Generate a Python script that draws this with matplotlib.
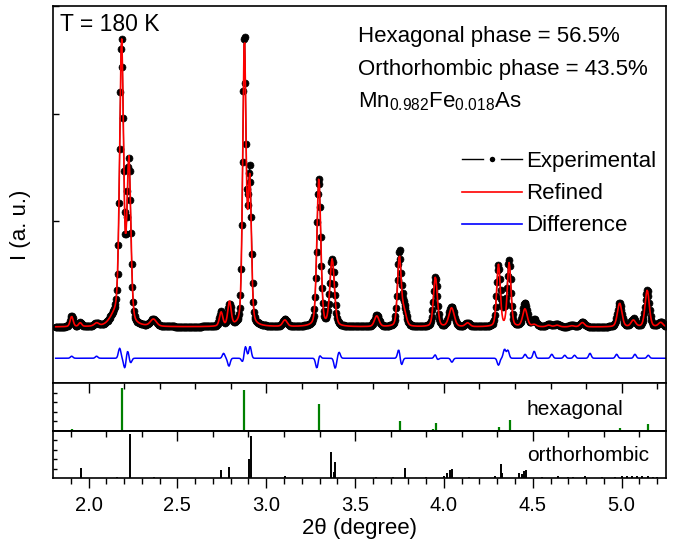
import numpy as np
import matplotlib.pyplot as plt
from matplotlib.lines import Line2D

plt.rcParams['font.family'] = ['Liberation Sans', 'DejaVu Sans']
plt.rcParams['mathtext.fontset'] = 'custom'
plt.rcParams['mathtext.rm'] = 'Liberation Sans'
plt.rcParams['mathtext.it'] = 'Liberation Sans:italic'
plt.rcParams['axes.linewidth'] = 1.2

peak_pos = [1.905, 1.953, 2.045, 2.150, 2.186, 2.227, 2.365, 2.746, 2.793, 2.877,
            2.907, 3.105, 3.296, 3.371, 3.622, 3.749, 3.775, 3.952, 4.043, 4.133,
            4.307, 4.337, 4.367, 4.456, 4.508, 4.590, 4.637, 4.720, 4.779, 4.989,
            5.066, 5.144, 5.220]
obs_int = [100, 37, 28, 90, 2600, 1490, 65, 140, 200, 2690,
           1400, 65, 1370, 620, 110, 690, 180, 465, 185, 37,
           555, 130, 600, 220, 65, 28, 28, 18, 46, 220,
           74, 340, 46]
calc_int = [95, 35, 28, 90, 2600, 1510, 65, 130, 225, 2640,
            1320, 60, 1370, 620, 100, 640, 140, 460, 175, 35,
            575, 0, 590, 165, 20, 15, 15, 10, 40, 220,
            60, 340, 40]
peak_fwhm = [0.02, 0.02, 0.03, 0.07, 0.026, 0.026, 0.04, 0.022, 0.022, 0.022,
             0.022, 0.03, 0.026, 0.03, 0.03, 0.024, 0.03, 0.026, 0.035, 0.03,
             0.024, 0.03, 0.024, 0.03, 0.03, 0.03, 0.03, 0.03, 0.03, 0.03,
             0.03, 0.028, 0.03]
background = 20

# Difference curve features (position, signed amplitude)
diff_pos = [1.905, 2.045, 2.175, 2.204, 2.220, 2.236, 2.760, 2.790, 2.868, 2.883,
            2.909, 3.285, 3.300, 3.388, 3.410, 3.746, 3.761, 3.952, 3.962, 4.045,
            4.307, 4.341, 4.360, 4.457, 4.508, 4.607, 4.680, 4.735, 4.822, 4.972,
            5.075, 5.150]
diff_amp = [19, 19, 93, -93, 74, -46, 46, -74, -37, 111,
            111, -93, 28, -93, 56, 83, -65, 37, -19, -37,
            -65, 83, 74, 37, 65, 37, 28, 28, 46, 37,
            37, 28]
diff_offset = -270

# Bragg reflections
hex_pos = [1.905, 2.156, 2.188, 2.875, 3.298, 3.751, 3.802, 3.937, 3.956, 4.309,
           4.371, 4.622, 4.710, 4.991, 5.038, 5.147]
hex_int = [4, 2, 90, 85, 57, 20, 2, 5, 17, 8, 22, 2, 2, 7, 3, 14]
ortho_pos = [1.955, 2.161, 2.234, 2.367, 2.746, 2.793, 2.901, 2.914, 3.105, 3.366,
             3.379, 3.388, 3.615, 3.714, 3.783, 3.899, 3.998, 4.017, 4.032, 4.045,
             4.139, 4.289, 4.319, 4.326, 4.420, 4.439, 4.448, 4.461, 4.551, 4.644,
             4.700, 4.729, 4.794, 4.888, 4.963, 5.000, 5.029, 5.057, 5.085, 5.113,
             5.150, 5.178, 5.197]
ortho_int = [21, 2, 94, 2, 16, 23, 40, 90, 4, 55,
             13, 33, 2, 2, 21, 2, 5, 10, 16, 19,
             2, 4, 30, 10, 10, 8, 14, 18, 2, 4,
             2, 3, 4, 2, 3, 4, 4, 5, 4, 4,
             4, 3, 2]


def pseudo_voigt(x, pos, h, w, eta=0.3):
    g = np.exp(-4 * np.log(2) * ((x - pos) / w) ** 2)
    l = 1 / (1 + 4 * ((x - pos) / w) ** 2)
    return h * (eta * l + (1 - eta) * g)


tth = np.arange(1.815, 5.25, 0.004)
y_obs = np.full_like(tth, background, dtype=float)
y_calc = np.full_like(tth, background, dtype=float)
for p, ho, hc, w in zip(peak_pos, obs_int, calc_int, peak_fwhm):
    y_obs += pseudo_voigt(tth, p, ho, w)
    y_calc += pseudo_voigt(tth, p, hc, w)
y_diff = np.full_like(tth, diff_offset, dtype=float)
for p, a in zip(diff_pos, diff_amp):
    y_diff += a * np.exp(-0.5 * ((tth - p) / 0.007) ** 2)

fig = plt.figure(figsize=(6.77, 5.47), dpi=100)
ax1 = fig.add_axes([0.0783, 0.2998, 0.9055, 0.689])
ax2 = fig.add_axes([0.0783, 0.2121, 0.9055, 0.0878])
ax3 = fig.add_axes([0.0783, 0.1261, 0.9055, 0.0860])

# main pattern
ax1.plot(tth, y_obs, color='k', lw=0.8, marker='o', markersize=5, mfc='k', mec='k', mew=0.5)
ax1.plot(tth, y_calc, color='#ff0000', lw=1.2)
ax1.plot(tth, y_diff, color='#0000ff', lw=1.1)
ax1.set_xlim(1.8, 5.25)
ax1.set_ylim(-500, 3000)
ax1.set_yticks([0, 1000, 2000, 3000])
ax1.tick_params(axis='y', direction='in', length=4, width=1, labelleft=False)
ax1.tick_params(axis='x', bottom=False, labelbottom=False)
ax1.set_ylabel('I (a. u.)', fontsize=16)
ax1.yaxis.set_label_coords(-0.036, 0.419)

ax1.text(0.0114, 0.934, 'T = 180 K', transform=ax1.transAxes, fontsize=16.5)
ax1.text(0.4976, 0.9045, 'Hexagonal phase = 56.5%', transform=ax1.transAxes, fontsize=16)
ax1.text(0.4976, 0.817, 'Orthorhombic phase = 43.5%', transform=ax1.transAxes, fontsize=16)
ax1.text(0.4976, 0.732, r'Mn$_{0.982}$Fe$_{0.018}$As', transform=ax1.transAxes, fontsize=16)

handles = [Line2D([], [], color='k', lw=1, marker='o', markersize=8, mfc='k', mec='white', mew=4),
           Line2D([], [], color='#ff0000', lw=1.2),
           Line2D([], [], color='#0000ff', lw=1.2)]
ax1.legend(handles, ['Experimental', 'Refined', 'Difference'], loc='upper left',
           bbox_to_anchor=(0.667, 0.615), frameon=False, fontsize=16, handlelength=2.7,
           handletextpad=0.2, labelspacing=0.5, borderaxespad=0, borderpad=0)

# hexagonal reflections
ax2.vlines(hex_pos, 0, hex_int, color='#008000', lw=1.6)
ax2.set_xlim(1.8, 5.25)
ax2.set_ylim(0, 100)
ax2.set_xticks([2, 3, 4, 5])
ax2.set_xticks(np.arange(2.0, 5.25, 0.2), minor=True)
ax2.tick_params(axis='x', which='both', direction='in', top=True, bottom=False,
                labelbottom=False, width=1)
ax2.tick_params(axis='x', which='major', length=7)
ax2.tick_params(axis='x', which='minor', length=4)
ax2.set_yticks([20, 40, 60, 80])
ax2.tick_params(axis='y', direction='in', length=3, width=1, labelleft=False)
ax2.text(0.773, 0.333, 'hexagonal', transform=ax2.transAxes, fontsize=15)

# orthorhombic reflections
ax3.vlines(ortho_pos, 0, ortho_int, color='k', lw=1.4)
ax3.set_xlim(1.8, 5.25)
ax3.set_ylim(0, 100)
ax3.set_xticks(np.arange(2.0, 5.25, 0.5))
ax3.set_xticks(np.arange(1.9, 5.25, 0.1), minor=True)
ax3.tick_params(axis='x', which='both', direction='out', width=1, labelsize=14.5, pad=6)
ax3.tick_params(axis='x', which='major', length=7)
ax3.tick_params(axis='x', which='minor', length=4)
ax3.set_yticks([20, 40, 60, 80])
ax3.tick_params(axis='y', direction='in', length=3, width=1, labelleft=False)
ax3.set_xlabel('2θ (degree)', fontsize=16, labelpad=2)
ax3.text(0.773, 0.36, 'orthorhombic', transform=ax3.transAxes, fontsize=15)

top3 = ax3.secondary_xaxis('top')
top3.set_xticks([2.5, 3.5, 4.5])
top3.set_xticks(np.arange(1.9, 5.25, 0.2), minor=True)
top3.tick_params(axis='x', which='both', direction='in', labeltop=False, width=1)
top3.tick_params(axis='x', which='major', length=7)
top3.tick_params(axis='x', which='minor', length=4)

fig.savefig('out.png', dpi=100)
